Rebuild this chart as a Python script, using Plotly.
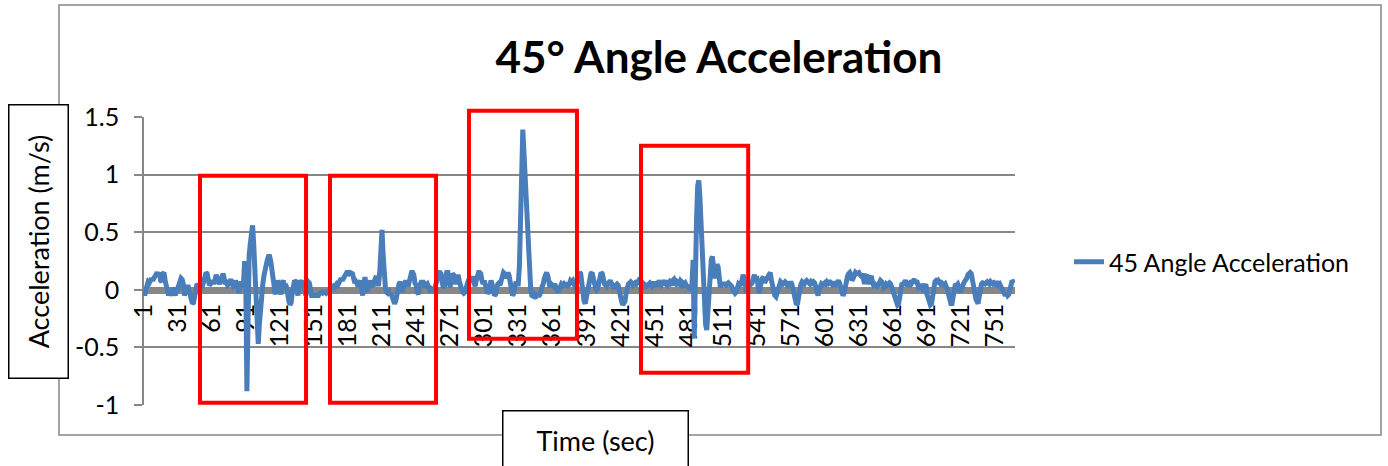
import plotly.graph_objects as go

# Acceleration samples, one per second (30 values per row)
accel = [
    0.00, -0.05, 0.00, 0.05, 0.07, 0.06, 0.08, 0.10, 0.08, 0.10, 0.12, 0.14, 0.15, 0.13, 0.15, 0.08, 0.07, 0.14, 0.15, 0.08, 0.02, -0.04, -0.05, 0.00, -0.04, -0.05, 0.02, -0.03, -0.05, 0.00,
    0.00, 0.04, 0.08, 0.10, 0.09, 0.05, -0.05, -0.02, 0.03, 0.04, 0.00, -0.06, -0.10, -0.12, -0.11, -0.06, 0.02, 0.05, 0.04, 0.03, 0.06, 0.05, 0.04, 0.07, 0.10, 0.15, 0.14, 0.06, 0.04, 0.05,
    0.06, 0.08, 0.05, 0.10, 0.13, 0.10, 0.06, 0.05, 0.08, 0.13, 0.14, 0.10, 0.05, 0.06, 0.04, 0.05, 0.08, 0.09, 0.06, 0.03, 0.04, 0.08, 0.05, 0.02, -0.03, 0.04, 0.07, 0.03, 0.05, 0.25,
    0.10, -0.88, 0.10, 0.30, 0.40, 0.50, 0.56, 0.40, 0.10, -0.20, -0.40, -0.47, -0.30, -0.15, -0.05, 0.05, 0.12, 0.18, 0.22, 0.26, 0.29, 0.29, 0.25, 0.15, 0.05, 0.00, -0.04, 0.04, 0.08, 0.05,
    0.02, -0.04, 0.06, 0.08, 0.03, 0.05, 0.02, -0.06, -0.10, -0.13, -0.11, -0.02, 0.07, 0.08, 0.07, -0.03, -0.05, 0.05, 0.08, 0.06, 0.08, 0.03, -0.04, -0.05, 0.04, 0.07, 0.06, 0.00, -0.05, -0.05,
    -0.05, -0.06, -0.05, -0.06, -0.05, -0.03, -0.02, -0.02, -0.03, -0.02, -0.02, -0.03, -0.02, -0.01, 0.00, 0.02, 0.03, 0.03, 0.02, 0.04, 0.05, 0.04, 0.07, 0.10, 0.10, 0.08, 0.10, 0.12, 0.13, 0.15,
    0.15, 0.14, 0.15, 0.15, 0.14, 0.10, 0.06, 0.07, 0.05, 0.03, 0.06, 0.08, 0.02, -0.05, 0.05, 0.11, 0.04, -0.02, 0.03, 0.07, 0.08, 0.04, 0.03, 0.07, 0.10, 0.12, 0.05, 0.05, 0.15, 0.35,
    0.52, 0.30, 0.12, 0.02, -0.02, -0.03, -0.02, -0.05, -0.03, -0.06, -0.10, -0.12, -0.10, -0.04, -0.02, 0.05, 0.07, 0.02, -0.02, 0.03, 0.06, 0.08, 0.06, 0.03, 0.07, 0.12, 0.15, 0.15, 0.13, 0.06,
    0.04, -0.02, -0.04, 0.03, 0.07, 0.08, 0.06, 0.02, 0.05, 0.04, 0.05, 0.03, 0.00, 0.01, 0.00, 0.02, 0.00, 0.03, 0.08, 0.12, 0.15, 0.15, 0.14, 0.06, 0.02, 0.03, 0.10, 0.15, 0.15, 0.08,
    0.02, 0.09, 0.14, 0.13, 0.06, 0.05, 0.10, 0.13, 0.08, 0.02, 0.01, -0.02, -0.03, -0.02, 0.02, 0.05, 0.08, 0.09, 0.07, 0.10, 0.10, 0.06, 0.03, 0.08, 0.12, 0.15, 0.15, 0.14, 0.08, 0.05,
    0.08, 0.04, 0.00, -0.03, -0.02, 0.05, 0.08, 0.05, 0.00, -0.05, -0.04, 0.03, 0.05, 0.06, 0.04, 0.08, 0.12, 0.15, 0.14, 0.10, 0.13, 0.15, 0.12, 0.06, 0.00, -0.05, -0.03, 0.05, 0.07, 0.05,
    0.05, 0.20, 0.60, 1.05, 1.39, 1.20, 0.98, 0.78, 0.55, 0.32, 0.12, 0.00, -0.05, -0.05, -0.06, -0.04, -0.05, -0.03, -0.06, -0.04, -0.02, 0.03, 0.05, 0.10, 0.14, 0.15, 0.12, 0.04, 0.02, 0.05,
    0.04, 0.03, 0.05, 0.02, -0.01, -0.02, 0.00, 0.04, 0.05, 0.04, 0.05, 0.03, 0.05, 0.06, 0.04, 0.05, 0.08, 0.07, 0.08, 0.05, 0.03, 0.04, 0.08, 0.12, 0.15, 0.14, 0.05, -0.05, -0.10, -0.12,
    -0.06, 0.00, 0.04, 0.10, 0.14, 0.15, 0.10, 0.03, 0.02, 0.00, 0.01, 0.06, 0.11, 0.15, 0.14, 0.07, 0.05, 0.04, 0.03, 0.05, 0.07, 0.08, 0.06, 0.02, 0.01, 0.03, 0.05, 0.05, 0.04, -0.02,
    -0.06, -0.10, -0.13, -0.12, -0.10, -0.03, 0.03, 0.05, 0.06, 0.07, 0.06, 0.04, 0.05, 0.06, 0.05, 0.07, 0.08, 0.07, 0.05, 0.04, 0.05, 0.03, 0.04, 0.03, 0.04, 0.05, 0.06, 0.05, 0.03, 0.04,
    0.07, 0.05, 0.03, 0.05, 0.08, 0.06, 0.04, 0.05, 0.07, 0.08, 0.05, 0.04, 0.06, 0.07, 0.05, 0.04, 0.08, 0.09, 0.06, 0.05, 0.07, 0.06, 0.05, 0.08, 0.07, 0.04, 0.05, 0.06, 0.04, 0.03,
    0.02, 0.01, 0.00, 0.05, 0.26, -0.42, 0.30, 0.60, 0.90, 0.95, 0.80, 0.55, 0.30, 0.05, -0.15, -0.30, -0.35, -0.15, 0.05, 0.18, 0.26, 0.29, 0.20, 0.10, 0.15, 0.22, 0.20, 0.08, 0.02, 0.05,
    0.05, 0.06, 0.05, 0.04, 0.05, 0.06, 0.05, 0.04, 0.03, 0.00, -0.02, -0.03, -0.02, 0.02, 0.05, 0.04, 0.05, 0.08, 0.13, 0.10, 0.00, -0.03, 0.02, 0.05, 0.04, 0.05, 0.06, 0.10, 0.13, 0.08,
    0.12, 0.05, -0.03, 0.02, 0.07, 0.10, 0.11, 0.06, 0.08, 0.10, 0.12, 0.14, 0.15, 0.08, 0.03, -0.02, -0.05, -0.06, -0.03, 0.03, 0.06, 0.07, 0.06, 0.05, 0.06, 0.07, 0.06, 0.04, 0.02, 0.05,
    0.07, 0.05, 0.00, -0.05, -0.10, -0.13, -0.12, -0.08, 0.00, 0.05, 0.07, 0.06, 0.05, 0.07, 0.08, 0.07, 0.06, 0.05, 0.07, 0.06, 0.07, 0.06, 0.03, -0.02, -0.05, 0.00, 0.04, 0.05, 0.04, 0.05,
    0.06, 0.05, 0.07, 0.06, 0.08, 0.06, 0.05, 0.07, 0.05, 0.03, 0.05, 0.07, 0.08, 0.06, 0.02, -0.02, -0.05, -0.03, 0.04, 0.08, 0.12, 0.14, 0.15, 0.13, 0.08, 0.10, 0.13, 0.15, 0.14, 0.15,
    0.15, 0.13, 0.12, 0.14, 0.06, 0.05, 0.12, 0.13, 0.08, 0.05, 0.10, 0.12, 0.06, 0.04, 0.05, 0.04, 0.03, 0.04, 0.06, 0.08, 0.07, 0.05, 0.02, 0.03, 0.05, 0.04, 0.05, 0.06, 0.05, 0.02,
    0.00, -0.03, -0.06, -0.10, -0.13, -0.12, -0.05, 0.03, 0.06, 0.05, 0.07, 0.08, 0.06, 0.03, 0.05, 0.06, 0.05, 0.07, 0.08, 0.08, 0.07, 0.08, 0.04, 0.00, 0.03, 0.05, 0.02, -0.02, 0.03, 0.05,
    -0.04, -0.08, -0.12, -0.13, -0.12, -0.05, 0.04, 0.07, 0.08, 0.07, 0.08, 0.07, 0.05, 0.06, 0.05, 0.04, 0.05, 0.03, 0.00, -0.04, -0.09, -0.12, -0.12, -0.06, 0.02, 0.05, 0.04, 0.05, 0.02, -0.02,
    0.00, 0.04, 0.05, 0.07, 0.08, 0.10, 0.13, 0.15, 0.15, 0.14, 0.10, 0.04, -0.02, -0.08, -0.12, -0.12, -0.06, 0.02, 0.05, 0.06, 0.05, 0.05, 0.06, 0.07, 0.06, 0.05, 0.07, 0.06, 0.05, 0.06,
    0.05, 0.07, 0.06, 0.04, 0.05, 0.03, 0.00, -0.03, -0.04, -0.05, -0.03, -0.05, -0.04, 0.00, 0.05, 0.08, 0.07, 0.06,
]

# Time axis: one category per sample, labelled every 30 seconds
seconds = list(range(1, len(accel) + 1))
x_tick_vals = seconds[::30]
x_tick_text = [str(v) for v in x_tick_vals]

y_tick_vals = [-1, -0.5, 0, 0.5, 1, 1.5]
y_tick_text = ["-1", "-0.5", "0", "0.5", "1", "1.5"]
y_range = [-1, 1.5]

# Highlighted motion events: (first second, last second, low, high)
event_boxes = [
    (50.7, 144.1, -0.98, 0.99),
    (165.2, 258.6, -0.98, 0.99),
    (287.6, 382.7, -0.425, 1.554),
    (439.1, 533.5, -0.72, 1.25),
]

W, H = 1388, 466
ML, MR, MT, MB = 143, 373, 117, 61
PW, PH = W - ML - MR, H - MT - MB

FONT = "Lato, 'Open Sans', sans-serif"
GRID = "#878787"
BLUE = "#4A7EBB"


def px_x(p):
    return (p - ML) / PW


def px_y(p):
    return (H - MB - p) / PH


def y_paper(v):
    return (v - y_range[0]) / (y_range[1] - y_range[0])


fig = go.Figure()
fig.add_trace(go.Scatter(
    x=seconds, y=accel, mode="lines",
    name="45 Angle Acceleration",
    line=dict(color=BLUE, width=5),
))

shapes = [
    # chart area frame
    dict(type="rect", xref="paper", yref="paper",
         x0=px_x(59), x1=px_x(1381), y0=px_y(435), y1=px_y(5),
         line=dict(color=GRID, width=1.5), layer="below"),
]
for x0, x1, lo, hi in event_boxes:
    shapes.append(dict(type="rect", xref="x", yref="paper",
                       x0=x0, x1=x1, y0=y_paper(lo), y1=y_paper(hi),
                       line=dict(color="#FF0000", width=4), layer="above"))

annotations = [
    dict(text="Acceleration (m/s)", xref="paper", yref="paper",
         x=px_x(38), y=px_y(242), xanchor="center", yanchor="middle",
         textangle=-90, width=272, height=58, showarrow=False,
         bordercolor="#000000", borderwidth=1.5, borderpad=0, bgcolor="white",
         font=dict(family=FONT, size=27, color="black")),
    dict(text="Time (sec)", xref="paper", yref="paper",
         x=px_x(595), y=px_y(440), xanchor="center", yanchor="middle",
         width=184, height=58, showarrow=False,
         bordercolor="#000000", borderwidth=1.5, borderpad=0, bgcolor="white",
         font=dict(family=FONT, size=27, color="black")),
]

fig.update_layout(
    width=W, height=H,
    margin=dict(l=ML, r=MR, t=MT, b=MB, pad=0),
    paper_bgcolor="white", plot_bgcolor="white",
    font=dict(family=FONT, color="black"),
    title=dict(text="<b>45° Angle Acceleration</b>", xref="container", yref="container",
               x=719 / W, y=1 - 58 / H, xanchor="center", yanchor="middle",
               font=dict(family=FONT, size=44, color="black")),
    showlegend=True,
    legend=dict(x=px_x(1069), y=px_y(262), xanchor="left", yanchor="middle",
                font=dict(family=FONT, size=25, color="black"),
                bgcolor="rgba(0,0,0,0)", borderwidth=0),
    xaxis=dict(range=[0.5, len(accel) + 0.5], anchor="free", position=y_paper(0),
               showline=True, linecolor="#878787", linewidth=7,
               showgrid=False, zeroline=False, ticks="",
               tickmode="array", tickvals=x_tick_vals, ticktext=x_tick_text,
               tickangle=-90, tickfont=dict(family=FONT, size=25, color="black"),
               layer="below traces"),
    yaxis=dict(range=y_range, anchor="free", position=0,
               tickmode="array", tickvals=y_tick_vals, ticktext=y_tick_text,
               showgrid=True, gridcolor=GRID, gridwidth=1.5,
               showline=True, linecolor=GRID, linewidth=1.5,
               ticks="outside", ticklen=8, tickcolor=GRID, tickwidth=1.5,
               zeroline=False, tickfont=dict(family=FONT, size=25, color="black"),
               ticklabelstandoff=10, layer="below traces"),
    shapes=shapes,
    annotations=annotations,
)

fig.write_html("out.html")
